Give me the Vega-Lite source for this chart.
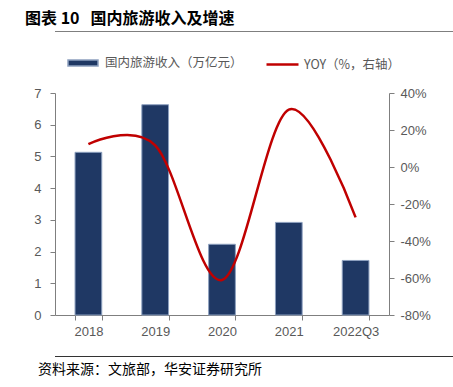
{
  "$schema": "https://vega.github.io/schema/vega-lite/v6.json",
  "padding": {"left": 0, "right": 0, "top": 11, "bottom": 0},
  "background": "white",
  "title": {"text": "图表 10\u00a0\u00a0\u00a0国内旅游收入及增速", "anchor": "start", "dx": 25, "fontSize": 16, "fontWeight": "bold", "font": "Noto Sans CJK SC", "color": "#000000", "offset": 4},
  "config": {"font": "Liberation Sans", "view": {"stroke": null}},
  "spacing": 18,
  "align": "none",
  "resolve": {"scale": {"x": "independent", "y": "independent"}},
  "vconcat": [
    {
      "width": 453,
      "height": 38,
      "data": {"values": [{"p": 1}]},
      "mark": {"type": "rect", "color": "#7f7f7f"},
      "encoding": {
        "x": {"datum": 0, "type": "quantitative", "scale": {"domain": [0, 1]}, "axis": null},
        "x2": {"datum": 1},
        "y": {"datum": 37, "type": "quantitative", "scale": {"domain": [0, 38]}, "axis": null},
        "y2": {"datum": 38}
      }
    },
    {
      "width": 334,
      "height": 222,
      "data": {"values": [
        {"year": "2018", "revenue": 5.13, "yoy": 12.3},
        {"year": "2019", "revenue": 6.63, "yoy": 11.7},
        {"year": "2020", "revenue": 2.23, "yoy": -61.1},
        {"year": "2021", "revenue": 2.92, "yoy": 31.0},
        {"year": "2022Q3", "revenue": 1.72, "yoy": -27.2}
      ]},
      "encoding": {
        "x": {
          "field": "year", "type": "nominal", "sort": null,
          "scale": {"paddingInner": 0.6, "paddingOuter": 0.3},
          "axis": {"title": null, "labelAngle": 0, "tickBand": "extent", "labelFontSize": 13, "labelColor": "#595959", "domainColor": "#7f7f7f", "tickColor": "#7f7f7f", "tickSize": 5, "labelPadding": 5, "labelFont": "Liberation Sans"}
        }
      },
      "layer": [
        {
          "mark": {"type": "bar", "stroke": "#8da0bf", "strokeWidth": 1},
          "encoding": {
            "y": {
              "field": "revenue", "type": "quantitative",
              "scale": {"domain": [0, 7]},
              "axis": {"title": null, "values": [0, 1, 2, 3, 4, 5, 6, 7], "grid": false, "minExtent": 55, "labelFontSize": 13, "labelColor": "#595959", "domainColor": "#7f7f7f", "tickColor": "#7f7f7f", "tickSize": 5, "labelPadding": 9, "labelFont": "Liberation Sans"}
            },
            "fill": {
              "datum": "国内旅游收入（万亿元）", "type": "nominal",
              "scale": {"range": ["#1f3864"]},
              "legend": {"title": null, "orient": "none", "legendX": 12, "legendY": 16, "symbolType": "M-1,-0.2H1V0.2H-1Z", "symbolSize": 900, "labelFontSize": 12.5, "labelFont": "Noto Sans CJK SC", "labelColor": "#595959", "labelOffset": 6, "padding": 0}
            }
          }
        },
        {
          "mark": {"type": "line", "interpolate": "cardinal", "strokeWidth": 2.5},
          "encoding": {
            "y": {
              "field": "yoy", "type": "quantitative",
              "scale": {"domain": [-80, 40]},
              "axis": {"orient": "right", "title": null, "values": [-80, -60, -40, -20, 0, 20, 40], "labelExpr": "datum.value + '%'", "grid": false, "labelFontSize": 13, "labelColor": "#595959", "domainColor": "#7f7f7f", "tickColor": "#7f7f7f", "tickSize": 5, "labelPadding": 6, "labelFont": "Liberation Sans"}
            },
            "stroke": {
              "datum": "YOY（%，右轴）", "type": "nominal",
              "scale": {"range": ["#c00000"]},
              "legend": {"title": null, "orient": "none", "legendX": 210, "legendY": 16, "symbolType": "stroke", "symbolSize": 1024, "symbolStrokeWidth": 2.5, "labelFontSize": 12.5, "labelFont": "Noto Sans CJK SC", "labelColor": "#595959", "labelOffset": 4, "padding": 0}
            }
          }
        }
      ],
      "resolve": {"scale": {"y": "independent"}}
    },
    {
      "width": 453,
      "height": 1,
      "data": {"values": [{"p": 1}]},
      "title": {"text": "资料来源：文旅部，华安证券研究所", "orient": "bottom", "anchor": "start", "dx": -17, "offset": 6, "fontSize": 14, "fontWeight": "normal", "font": "Noto Sans CJK SC", "color": "#000000"},
      "mark": {"type": "rect", "color": "#333333"},
      "encoding": {
        "x": {"datum": 0, "type": "quantitative", "scale": {"domain": [0, 1]}, "axis": null},
        "x2": {"datum": 1},
        "y": {"datum": 0, "type": "quantitative", "scale": {"domain": [0, 1]}, "axis": null},
        "y2": {"datum": 1}
      }
    }
  ]
}
